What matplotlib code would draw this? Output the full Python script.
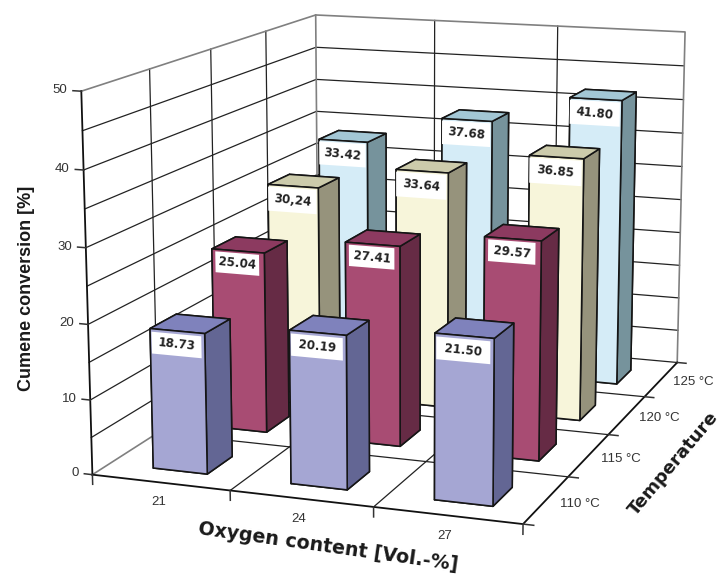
import numpy as np, matplotlib
matplotlib.use('Agg')
import matplotlib.pyplot as plt
from mpl_toolkits.mplot3d import proj3d
from mpl_toolkits.mplot3d.art3d import Poly3DCollection

plt.rcParams['font.family'] = ['Liberation Sans', 'DejaVu Sans']

oxygen = ['21', '24', '27']
temps = ['110 °C', '115 °C', '120 °C', '125 °C']
z_ticks = [0, 10, 20, 30, 40, 50]
values_21 = [18.73, 25.04, 30.24, 33.42]
values_24 = [20.19, 27.41, 33.64, 37.68]
values_27 = [21.50, 29.57, 36.85, 41.80]
labels_21 = ['18.73', '25.04', '30,24', '33.42']
labels_24 = ['20.19', '27.41', '33.64', '37.68']
labels_27 = ['21.50', '29.57', '36.85', '41.80']
fronts = ['#A5A6D3', '#A84C73', '#F7F5DA', '#D5ECF7']
tops = ['#7F82BC', '#8C3A60', '#CCCBAB', '#A3C7D5']
sides = ['#636694', '#662B45', '#96937C', '#76939C']

values = [values_21, values_24, values_27]
labels = [labels_21, labels_24, labels_27]

W, H, S = 724, 574, 1000.
fig = plt.figure(figsize=(W / 100, H / 100), dpi=100)
ax = fig.add_subplot(projection='3d')
ax.set_xlim(0, 3, view_margin=0)
ax.set_ylim(0, 4, view_margin=0)
ax.set_zlim(0, 50, view_margin=0)
ax.view_init(12.4581, -70.3164, 0.0246)
ax.set_proj_type('persp', focal_length=0.4613)
ax.set_box_aspect((1, np.exp(0.3065), np.exp(-0.1493)), zoom=0.7761)
ax.set_position([(393.632 - S / 2) / W, (H - 253.0504 - S / 2) / H, S / W, S / H])
ax.set_axis_off()
ax.computed_zorder = False


def label3d(x, y, z, s, **kw):
    xs, ys, _ = proj3d.proj_transform(x, y, z, ax.get_proj())
    ax.text2D(float(xs), float(ys), s, transform=ax.transData, **kw)


grid = dict(color='#222222', lw=0.9, zorder=1)
edge = dict(color='#808080', lw=1.2, zorder=1.5)
axl = dict(color='#111111', lw=1.3, zorder=1.5)
tickc = dict(color='#333333', lw=1.1, zorder=1.5)
tick_font = dict(fontsize=9.5, color='#333333', zorder=50)

for z in range(5, 50, 5):
    ax.plot([0, 0, 3], [0, 4, 4], [z, z, z], **grid)
for x in (1, 2):
    ax.plot([x, x, x], [0, 4, 4], [0, 0, 50], **grid)
for y in (1, 2, 3):
    ax.plot([0, 0, 3], [y, y, y], [50, 0, 0], **grid)
ax.plot([0, 3], [4, 4], [0, 0], **grid)
ax.plot([0, 0], [0, 4], [0, 0], **edge)
ax.plot([0, 0, 3, 3], [0, 4, 4, 4], [50, 50, 50, 0], **edge)
ax.plot([0, 0], [4, 4], [0, 50], **edge)
ax.plot([0, 0], [0, 0], [0, 50], **axl)
ax.plot([0, 3, 3], [0, 0, 4], [0, 0, 0], **axl)

for z in z_ticks:
    ax.plot([-0.06, 0], [0, 0], [z, z], **tickc)
    label3d(-0.1, 0, z, str(z), ha='right', va='center', **tick_font)
for x in range(4):
    ax.plot([x, x], [0, 0], [0, -1.3], **tickc)
for i, t in enumerate(oxygen):
    label3d(i + 0.48, 0, -2.7, t, ha='center', va='center', **tick_font)
for y in range(5):
    ax.plot([3, 3.07], [y, y], [0, 0], **tickc)
for j, t in enumerate(temps):
    label3d(3.09, j + 0.5, -0.3, t, ha='left', va='center', **tick_font)

bx0, bw, by00, bd = 0.32, 0.3964, 0.2631, 0.406
box_gap = [0.4, 0.3, 0.3, 0.3]
box_height = [2.9, 2.9, 3.5, 3.5]
box_inset = [0.01, 0.025, 0.0, 0.0]
for j in range(3, -1, -1):
    for i in range(3):
        v = values[i][j]
        x0 = i + bx0
        y0 = j + by00
        zb = 10 + (3 - j) * 10 + i
        cols = [tops[j], tops[j], fronts[j], fronts[j], sides[j], sides[j]]
        ax.bar3d(x0, y0, 0, bw, bd, v, color=cols, shade=False,
                 edgecolor='#151515', linewidth=1.15, zorder=zb)
        top, bot = v - box_gap[j], v - box_gap[j] - box_height[j]
        xl, xr = x0 + box_inset[j], x0 + bw - 0.015 - box_inset[j]
        ax.add_collection3d(Poly3DCollection(
            [[(xl, y0, top), (xr, y0, top), (xr, y0, bot), (xl, y0, bot)]],
            facecolor='white', edgecolor='none', zorder=zb + .1))
        label3d((xl + xr) / 2, y0, (top + bot) / 2, labels[i][j], ha='center', va='center',
                rotation=-6, fontsize=8.6, fontweight='bold', family='DejaVu Sans',
                color='#222222', zorder=zb + .2)

fig.text(27 / W, 1 - 288 / H, 'Cumene conversion [%]', rotation=90, ha='center', va='center',
         fontsize=13, fontweight='bold', color='#1a1a1a')
fig.text(328 / W, 1 - 547 / H, 'Oxygen content [Vol.-%]', rotation=-8, ha='center', va='center',
         fontsize=13.7, fontweight='bold', family='DejaVu Sans', color='#1a1a1a')
fig.text(674 / W, 1 - 464 / H, 'Temperature', rotation=50, ha='center', va='center',
         fontsize=13, fontweight='bold', family='DejaVu Sans', color='#1a1a1a')
fig.savefig('out.png', dpi=100)
